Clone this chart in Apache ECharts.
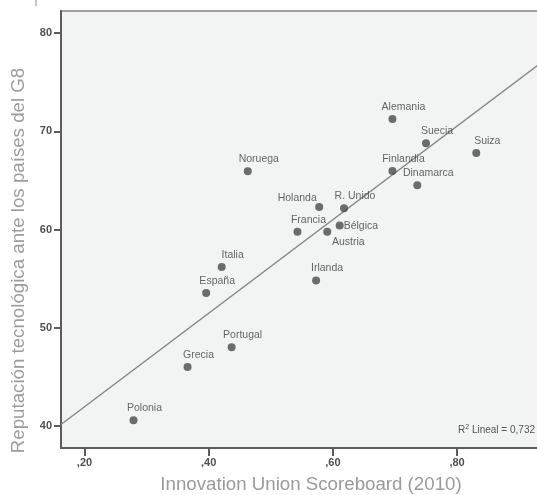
<!DOCTYPE html>
<html>
<head>
<meta charset="utf-8">
<title>Reputación tecnológica vs Innovation Union Scoreboard</title>
<script src="https://cdn.jsdelivr.net/npm/echarts@6/dist/echarts.min.js"></script>
<style>
  html, body { margin: 0; padding: 0; background: #ffffff; }
  #chart { width: 537px; height: 495px; }
</style>
</head>
<body>
<div id="chart"></div>
<script>
// Country data: Innovation Union Scoreboard 2010 index vs. technological reputation among G8 countries
const countries = ['Alemania', 'Suecia', 'Suiza', 'Noruega', 'Finlandia', 'Dinamarca', 'Holanda', 'R. Unido',
  'Bélgica', 'Francia', 'Austria', 'Italia', 'España', 'Irlanda', 'Portugal', 'Grecia', 'Polonia'];
const innovation = [0.696, 0.750, 0.831, 0.463, 0.696, 0.736, 0.578, 0.618,
  0.611, 0.543, 0.591, 0.421, 0.396, 0.573, 0.437, 0.366, 0.279];
const reputation = [71.26, 68.79, 67.80, 65.94, 65.97, 64.52, 62.31, 62.18,
  60.42, 59.77, 59.77, 56.20, 53.56, 54.82, 48.04, 46.03, 40.61];

// Axis ticks
const xTicks = [0.2, 0.4, 0.6, 0.8];
const yTicks = [40, 50, 60, 70, 80];
const rSquaredText = '0,732';

// Axis extents
const X_MIN = 0.1622, X_MAX = 0.9352;
const Y_MIN = 37.78, Y_MAX = 82.24;

// Label placement per country (offset from the marker centre, in px)
const labelOffsets = {
  'Holanda': [-22, -9],
  'Austria': [21, 10]
};
const DEFAULT_OFFSET = [11, -12];

// Least-squares fit line
function linearFit(xs, ys) {
  const n = xs.length;
  const mx = xs.reduce((a, b) => a + b, 0) / n;
  const my = ys.reduce((a, b) => a + b, 0) / n;
  let sxy = 0, sxx = 0;
  for (let i = 0; i < n; i++) {
    sxy += (xs[i] - mx) * (ys[i] - my);
    sxx += (xs[i] - mx) * (xs[i] - mx);
  }
  const slope = sxy / sxx;
  return { slope, intercept: my - slope * mx };
}
const fit = linearFit(innovation, reputation);
const fitLine = [X_MIN, X_MAX].map(x => [x, fit.intercept + fit.slope * x]);

const FONT = "'Liberation Sans', Arial, Helvetica, sans-serif";

const points = countries.map((name, i) => {
  const item = { name, value: [innovation[i], reputation[i]] };
  if (name === 'Bélgica') {
    item.label = { position: 'right', distance: 0, offset: [0, 1] };
  } else {
    item.label = { position: 'inside', offset: labelOffsets[name] || DEFAULT_OFFSET };
  }
  return item;
});

const chart = echarts.init(document.getElementById('chart'), null, { renderer: 'canvas' });

chart.setOption({
  animation: false,
  backgroundColor: '#ffffff',
  textStyle: { fontFamily: FONT },
  grid: {
    left: 61, top: 11, right: -4, bottom: 47,
    outerBoundsMode: 'none',
    show: true,
    backgroundColor: '#f2f3f3',
    borderColor: '#a0a0a0',
    borderWidth: 2
  },
  xAxis: {
    type: 'value',
    min: X_MIN, max: X_MAX,
    axisLine: { show: true, onZero: false, lineStyle: { color: '#5c5c5c', width: 2 } },
    axisTick: { show: true, length: 8, customValues: xTicks, lineStyle: { color: '#5c5c5c', width: 2 } },
    axisLabel: {
      customValues: xTicks,
      margin: 9,
      color: '#505050',
      fontSize: 11,
      fontWeight: 'bold',
      fontFamily: FONT,
      formatter: v => ',' + String(Math.round(v * 100))
    },
    splitLine: { show: false }
  },
  yAxis: {
    type: 'value',
    min: Y_MIN, max: Y_MAX,
    axisLine: { show: true, onZero: false, lineStyle: { color: '#5c5c5c', width: 2 } },
    axisTick: { show: true, length: 7, customValues: yTicks, lineStyle: { color: '#5c5c5c', width: 2 } },
    axisLabel: {
      customValues: yTicks,
      margin: 9,
      color: '#505050',
      fontSize: 11,
      fontWeight: 'bold',
      fontFamily: FONT,
      formatter: v => String(Math.round(v))
    },
    splitLine: { show: false }
  },
  series: [
    {
      type: 'line',
      data: fitLine,
      symbol: 'none',
      silent: true,
      clip: true,
      lineStyle: { color: '#858585', width: 1.4 },
      z: 2
    },
    {
      type: 'scatter',
      data: points,
      symbol: 'circle',
      symbolSize: 8,
      itemStyle: { color: '#4a4a4a' },
      label: {
        show: true,
        formatter: '{b}',
        color: '#3f3f3f',
        fontSize: 10.5,
        fontFamily: FONT
      },
      z: 3
    }
  ],
  graphic: [
    {
      type: 'text',
      x: 311, y: 485,
      style: {
        text: 'Innovation Union Scoreboard (2010)',
        font: '18.7px ' + FONT,
        fill: '#9a9a9a',
        textAlign: 'center',
        textVerticalAlign: 'middle'
      }
    },
    {
      type: 'text',
      x: 18.5, y: 260.5,
      rotation: Math.PI / 2,
      style: {
        text: 'Reputación tecnológica ante los países del G8',
        font: '18.7px ' + FONT,
        fill: '#9c9c9c',
        textAlign: 'center',
        textVerticalAlign: 'middle'
      }
    },
    {
      type: 'text',
      right: 2, top: 424,
      style: {
        text: '{a|R}{s|2}{a| Lineal = 0,' + rSquaredText.split(',')[1] + '}',
        rich: {
          a: { fontSize: 10, fontFamily: FONT, fill: '#555555', color: '#555555' },
          s: { fontSize: 7, fontFamily: FONT, fill: '#555555', color: '#555555', verticalAlign: 'top', padding: [0, 0, 5, 0] }
        }
      }
    },
    {
      type: 'line',
      shape: { x1: 36, y1: 0, x2: 36, y2: 6 },
      style: { stroke: '#8a8a8a', lineWidth: 1 }
    }
  ]
});
</script>
</body>
</html>
